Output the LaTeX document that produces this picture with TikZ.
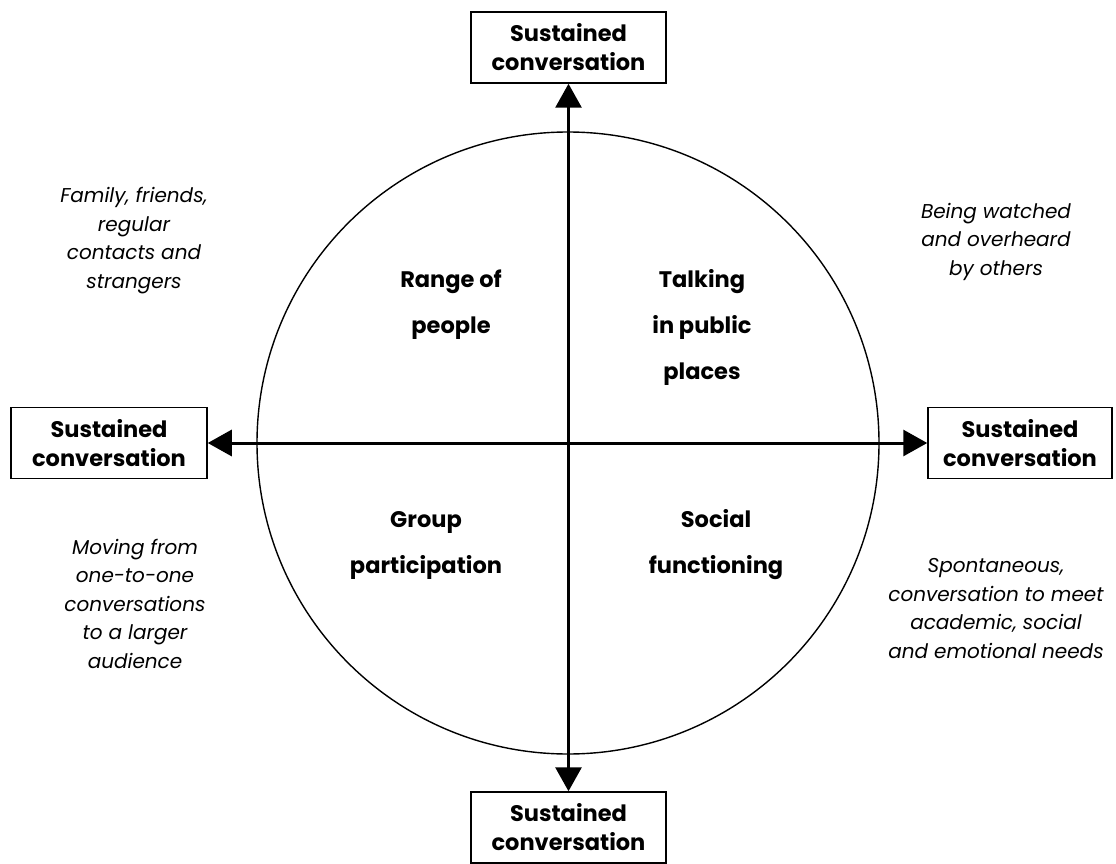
\documentclass[tikz,border=0pt]{standalone}
\usepackage{fontspec}
\setmainfont{Poppins}
\usetikzlibrary{arrows.meta}
\begin{document}
\begin{tikzpicture}[x=1pt,y=-1pt,
  box/.style={draw, line width=1.5pt, minimum width=195pt, minimum height=71pt,
    align=center, inner sep=0pt, font=\bfseries\fontsize{22.5}{29}\selectfont},
  quad/.style={align=center, anchor=base, font=\bfseries\fontsize{22.5}{46}\selectfont},
  note/.style={align=center, anchor=base, font=\itshape\fontsize{20}{28.5}\selectfont},
  axis/.style={line width=3pt, {Triangle[length=24pt,width=26pt]}-{Triangle[length=24pt,width=26pt]}}]
\useasboundingbox (0,0) rectangle (1116,864);

% circle
\draw[line width=1.4pt] (568,443) circle (311);

% the four end boxes
\node[box] (top) at (568.5,47.5) {Sustained\\conversation};
\node[box] (bottom) at (568.5,827.5) {Sustained\\conversation};
\node[box, minimum width=196pt] (left) at (109,443) {Sustained\\conversation};
\node[box, minimum width=184pt] (right) at (1020,443) {Sustained\\conversation};

% axes
\draw[axis] (bottom) -- (top);
\draw[axis] (left) -- (right);

% quadrant labels (placed by the baseline of their last line)
\node[quad] (range) at (451,333) {Range of\\people};
\node[quad] (talk) at (702,379) {Talking\\in public\\places};
\node[quad] (group) at (426,573) {Group\\participation};
\node[quad] (social) at (716,573) {Social\\functioning};

% outer notes
\node[note] (family) at (134,288) {Family, friends,\\regular\\contacts and\\strangers};
\node[note] (watched) at (996,275) {Being watched\\and overheard\\by others};
\node[note] (moving) at (135,668) {Moving from\\one-to-one\\conversations\\to a larger\\audience};
\node[note] (spont) at (996,658) {Spontaneous,\\conversation to meet\\academic, social\\and emotional needs};
\end{tikzpicture}
\end{document}
